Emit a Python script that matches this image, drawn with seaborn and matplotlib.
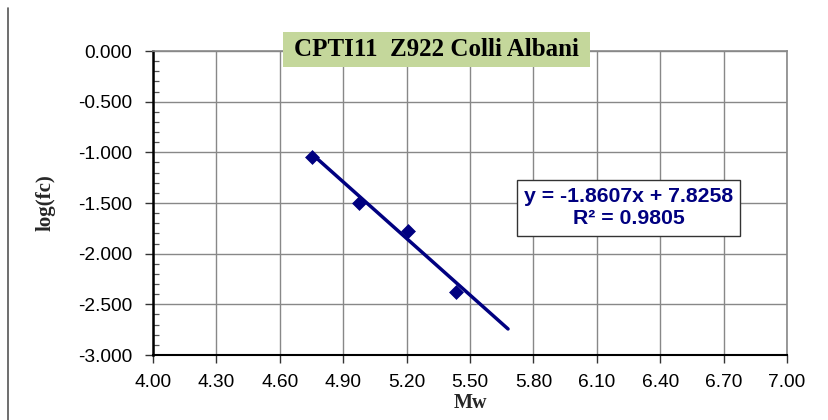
import matplotlib
matplotlib.use("Agg")
import matplotlib.pyplot as plt
from matplotlib.patches import Rectangle
import seaborn as sns
import numpy as np
import pandas as pd
from matplotlib.ticker import MultipleLocator, FormatStrFormatter, FixedLocator

# data
mw = [4.752, 4.975, 5.207, 5.434]
logfc = [-1.05, -1.50, -1.78, -2.38]
slope = -1.8607
intercept = 7.8258
r2 = 0.9805
trend_x = [4.752, 5.68]
x_ticks = [4.00, 4.30, 4.60, 4.90, 5.20, 5.50, 5.80, 6.10, 6.40, 6.70, 7.00]
y_ticks = [0.0, -0.5, -1.0, -1.5, -2.0, -2.5, -3.0]
title = "CPTI11  Z922 Colli Albani"

sns.set_theme(style="white")
plt.rcParams['font.family'] = ['Liberation Sans', 'DejaVu Sans']

fig = plt.figure(figsize=(8.29, 4.20), dpi=100)
ax = fig.add_axes([153/829, 1-355/420, (787-153)/829, (355-51)/420])

navy = "#000080"
df = pd.DataFrame({"Mw": mw, "logfc": logfc})
tx = np.array(trend_x)
tl = pd.DataFrame({"Mw": tx, "logfc": slope * tx + intercept})
sns.lineplot(data=tl, x="Mw", y="logfc", ax=ax, color=navy, lw=2.5, zorder=3)
sns.scatterplot(data=df, x="Mw", y="logfc", ax=ax, marker="D", s=50, color=navy,
                edgecolor=navy, linewidth=0.5, zorder=4)

ax.set_xlim(4.0, 7.0)
ax.set_ylim(-3.0, 0.0)
ax.xaxis.set_major_locator(FixedLocator(x_ticks))
ax.yaxis.set_major_locator(FixedLocator(y_ticks))
ax.yaxis.set_minor_locator(MultipleLocator(0.1))
ax.xaxis.set_major_formatter(FormatStrFormatter("%.2f"))
ax.yaxis.set_major_formatter(FormatStrFormatter("%.3f"))
ax.grid(True, which="major", color="#888888", lw=1.0)
ax.set_axisbelow(True)
ax.tick_params(axis="both", which="major", direction="out", length=6, width=1,
               color="#333333", labelsize=13.8, labelcolor="black")
ax.tick_params(axis="x", which="major", pad=8, bottom=True)
ax.tick_params(axis="y", which="major", pad=9, left=True)
ax.tick_params(axis="y", which="minor", direction="in", length=4, width=0.9,
               color="#555555", left=True)
for s in ["top", "right"]:
    ax.spines[s].set_color("#888888")
    ax.spines[s].set_linewidth(1.2)
ax.spines["left"].set_color("black")
ax.spines["left"].set_linewidth(1.8)
ax.spines["bottom"].set_color("black")
ax.spines["bottom"].set_linewidth(1.5)

ax.set_xlabel("Mw", family="Liberation Serif", fontweight="bold", fontsize=14.5, labelpad=1)
ax.set_ylabel("log(fc)", family="Liberation Serif", fontweight="bold", fontsize=15, labelpad=16)

# title box
ax.add_patch(Rectangle((0.205, 0.947), 0.484, 0.1155, transform=ax.transAxes,
                       facecolor="#C4D79B", edgecolor="none", clip_on=False, zorder=5))
ax.text(0.447, 1.004, title, transform=ax.transAxes, ha="center", va="center",
        family="Liberation Serif", fontweight="bold", fontsize=18, color="black", zorder=6)

# equation box
ax.add_patch(Rectangle((0.574, 0.391), 0.352, 0.185, transform=ax.transAxes,
                       facecolor="white", edgecolor="#333333", lw=1.0, zorder=5))
ax.text(0.750, 0.484, f"y = {slope:.4f}x + {intercept:.4f}\nR\u00b2 = {r2:.4f}",
        transform=ax.transAxes, ha="center", va="center", multialignment="center",
        fontweight="bold", fontsize=15.3, color=navy, linespacing=1.2, zorder=6)

fig.add_artist(plt.Line2D([8/829, 8/829], [0, 1-8/420], color="#555555", lw=1.2))
fig.savefig("out.png", dpi=100)
